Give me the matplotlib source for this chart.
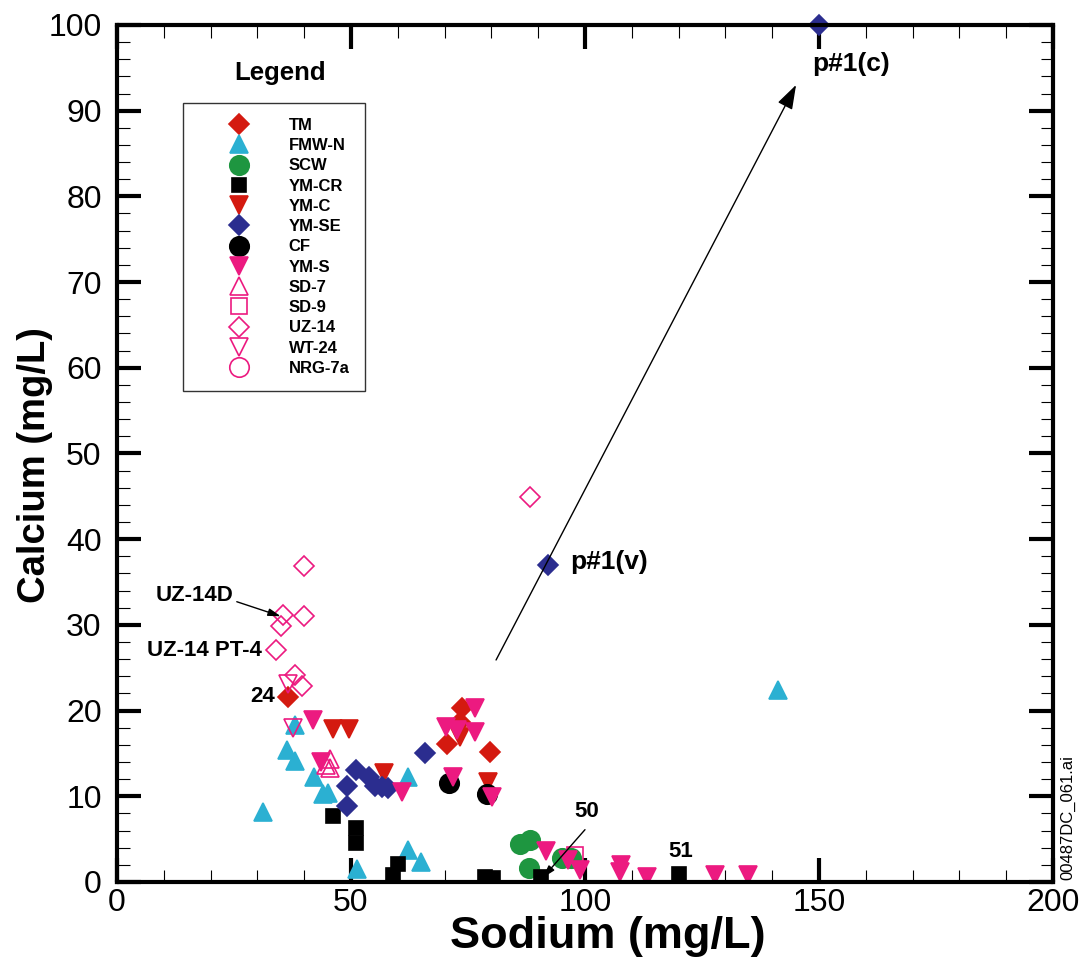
import matplotlib.pyplot as plt

plt.rcParams["font.family"] = ["Liberation Sans", "DejaVu Sans"]

# -------------------------
# Data: sodium (x) vs calcium (y), mg/L
# -------------------------

tm_na = [36.5, 73.7, 73.3, 70.5, 79.7]
tm_ca = [21.6, 20.3, 18.7, 16.1, 15.2]

fmwn_na = [31.2, 36.3, 38.0, 38.0, 42.1, 44.0, 45.1, 51.3, 62.2, 62.2, 65.0, 141.2]
fmwn_ca = [8.2, 15.4, 14.1, 18.3, 12.3, 10.3, 10.4, 1.5, 12.3, 3.7, 2.3, 22.4]

scw_na = [86.1, 88.2, 95.0, 97.1, 88.1]
scw_ca = [4.4, 4.9, 2.75, 2.75, 1.6]

ymcr_na = [46.1, 51.1, 51.1, 60.1, 59.0, 78.6, 80.3, 90.7, 120.1]
ymcr_ca = [7.7, 6.3, 4.6, 2.1, 0.8, 0.6, 0.5, 0.6, 0.9]

ymc_na = [46.2, 49.6, 57.0, 73.3, 79.3]
ymc_ca = [17.9, 17.9, 12.7, 16.9, 11.7]

ymse_na = [51.1, 49.1, 49.1, 53.8, 55.1, 56.6, 58.0, 65.8, 92.1, 150.0]
ymse_ca = [13.1, 11.2, 8.9, 12.3, 11.2, 11.1, 11.0, 15.1, 37.0, 100.0]

cf_na = [71.0, 79.0]
cf_ca = [11.5, 10.3]

yms_na = [41.9, 60.8, 43.7, 76.5, 70.4, 72.6, 76.5, 71.8, 80.1,
          91.6, 96.4, 98.9, 107.8, 107.5, 113.2, 127.8, 134.8]
yms_ca = [18.9, 10.5, 14.0, 20.3, 18.1, 17.7, 17.5, 12.3, 9.9,
          3.6, 2.6, 1.4, 2.0, 1.2, 0.6, 0.8, 0.8]

sd7_na = [45.5, 45.5, 44.6]
sd7_ca = [14.4, 13.3, 13.7]

sd9_na = [97.9]
sd9_ca = [3.1]

uz14_na = [40.0, 40.0, 35.4, 35.0, 33.9, 38.0, 39.5, 88.2]
uz14_ca = [36.9, 31.0, 31.2, 29.9, 27.1, 24.2, 22.9, 44.9]

wt24_na = [36.5, 37.6]
wt24_ca = [23.1, 18.0]

nrg7a_na = []
nrg7a_ca = []

# -------------------------
# Styles
# -------------------------

red = "#d41a10"
cyan = "#2bb0d2"
green = "#1e9640"
navy = "#2b2d8f"
pink = "#ec1a80"

series = [
    ("TM", tm_na, tm_ca, "D", 10, red, red),
    ("FMW-N", fmwn_na, fmwn_ca, "^", 13, cyan, cyan),
    ("SCW", scw_na, scw_ca, "o", 14, green, green),
    ("YM-CR", ymcr_na, ymcr_ca, "s", 10, "black", "black"),
    ("YM-C", ymc_na, ymc_ca, "v", 13, red, red),
    ("YM-SE", ymse_na, ymse_ca, "D", 10, navy, navy),
    ("CF", cf_na, cf_ca, "o", 14, "black", "black"),
    ("YM-S", yms_na, yms_ca, "v", 13, pink, pink),
    ("SD-7", sd7_na, sd7_ca, "^", 13, "none", pink),
    ("SD-9", sd9_na, sd9_ca, "s", 11, "none", pink),
    ("UZ-14", uz14_na, uz14_ca, "D", 10, "none", pink),
    ("WT-24", wt24_na, wt24_ca, "v", 13, "none", pink),
    ("NRG-7a", nrg7a_na, nrg7a_ca, "o", 14, "none", pink),
]

# -------------------------
# Plot
# -------------------------

fig = plt.figure(figsize=(10.82, 9.6), dpi=100)
ax = fig.add_axes([0.1081, 0.0813, 0.8651, 0.8927])

for label, xs, ys, mk, ms, fc, ec in series:
    ax.plot(xs, ys, linestyle="none", marker=mk, markersize=ms,
            markerfacecolor=fc, markeredgecolor=ec, markeredgewidth=1.2,
            label=label, clip_on=(label != "YM-SE"))

ax.set_xlim(0, 200)
ax.set_ylim(0, 100)
ax.set_xticks([0, 50, 100, 150, 200])
ax.set_xticks(range(0, 201, 10), minor=True)
ax.set_yticks(range(0, 101, 10))
ax.set_yticks(range(0, 101, 2), minor=True)

ax.tick_params(which="both", direction="in", top=True, right=True)
ax.tick_params(which="major", length=17, width=3)
ax.tick_params(which="minor", length=9, width=0.8)
ax.tick_params(axis="y", which="major", labelsize=23, pad=11)
ax.tick_params(axis="x", which="major", labelsize=23, pad=4)

for sp in ax.spines.values():
    sp.set_linewidth(3)

ax.set_xlabel("Sodium (mg/L)", fontsize=32.5, fontweight="bold")
ax.set_ylabel("Calcium (mg/L)", fontsize=27.5, fontweight="bold")
ax.xaxis.set_label_coords(0.524, -0.040)
ax.yaxis.set_label_coords(-0.068, 0.487)

# annotations
ax.annotate("", xy=(145.1, 93.0), xytext=(81.0, 25.9),
            arrowprops=dict(arrowstyle="-|>,head_length=0.6,head_width=0.2",
                            color="black", lw=1, mutation_scale=25,
                            shrinkA=0, shrinkB=0))
ax.annotate("", xy=(35.0, 31.0), xytext=(25.6, 32.7),
            arrowprops=dict(arrowstyle="-|>,head_length=0.5,head_width=0.15",
                            color="black", lw=1, mutation_scale=15,
                            shrinkA=0, shrinkB=0))
ax.annotate("", xy=(91.0, 0.5), xytext=(100.0, 6.1),
            arrowprops=dict(arrowstyle="-|>,head_length=0.5,head_width=0.15",
                            color="black", lw=1, mutation_scale=15,
                            shrinkA=0, shrinkB=0))

ax.text(24.8, 33.4, "UZ-14D", ha="right", va="center", fontsize=16, fontweight="bold")
ax.text(31.0, 27.0, "UZ-14 PT-4", ha="right", va="center", fontsize=16, fontweight="bold")
ax.text(33.8, 21.6, "24", ha="right", va="center", fontsize=16, fontweight="bold")
ax.text(96.8, 37.3, "p#1(v)", ha="left", va="center", fontsize=19, fontweight="bold")
ax.text(148.5, 95.4, "p#1(c)", ha="left", va="center", fontsize=19, fontweight="bold")
ax.text(100.4, 8.2, "50", ha="center", va="center", fontsize=16, fontweight="bold")
ax.text(120.5, 3.5, "51", ha="center", va="center", fontsize=16, fontweight="bold")

# legend
ax.text(0.174, 0.944, "Legend", transform=ax.transAxes, ha="center", va="center",
        fontsize=18.5, fontweight="bold")
leg = ax.legend(loc="upper left", bbox_to_anchor=(0.0705, 0.909, 0.1945, 0),
                mode="expand", borderaxespad=0, prop={"size": 12, "weight": "bold"},
                borderpad=0.9, handlelength=4.9, handletextpad=0.55,
                labelspacing=0.315, frameon=True, fancybox=False,
                edgecolor="#333333", framealpha=1)
leg.get_frame().set_linewidth(1.0)

fig.text(0.987, 0.083, "00487DC_061.ai", rotation=90, ha="center", va="bottom",
         fontsize=12)

fig.savefig("out.png", dpi=100)
plt.close(fig)
